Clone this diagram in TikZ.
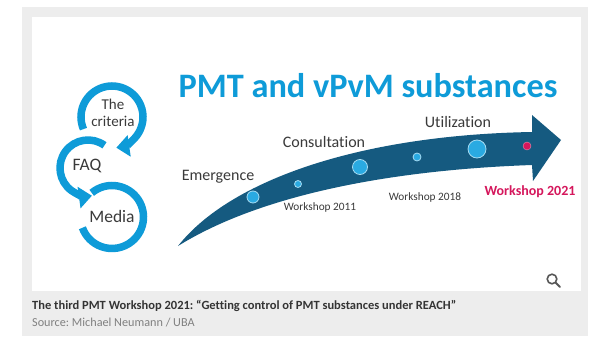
\documentclass[tikz,border=0pt]{standalone}
\usepackage{fontspec}
\setmainfont{Carlito}[Ligatures=NoCommon]
\usepackage{tikz}
\usetikzlibrary{arrows.meta}
\frenchspacing

\definecolor{ubablue}{HTML}{0E9BD8}
\definecolor{ubadark}{HTML}{155A80}
\definecolor{dotblue}{HTML}{2AAAE2}
\definecolor{dotrim}{HTML}{A6DCF3}
\definecolor{ubapink}{HTML}{D5175C}
\definecolor{framegray}{HTML}{EDEDED}
\definecolor{textgray}{HTML}{3A3A3A}

\begin{document}
\begin{tikzpicture}[y=-1pt,x=1pt,
	ring/.style={draw=ubablue, line width=7.5pt},
	ringtip/.style={ring, -{Triangle[width=21pt,length=13pt]}},
	ringtext/.style={text=textgray, font=\fontsize{17.5}{17}\selectfont},
	stage/.style={text=textgray, font=\fontsize{16}{16}\selectfont},
	year/.style={text=textgray, font=\fontsize{11.3}{12}\selectfont},
	spot/.style={fill=dotblue, draw=dotrim, line width=0.8pt}]
	\newcommand\Spot[1]{[spot] circle (#1)}

	\useasboundingbox (0,0) rectangle (596,337);
	% frame
	\fill[framegray] (22,7) rectangle (588,336);
	\fill[white] (32,17) rectangle (581,291);

	\node[text=ubablue, font=\bfseries\fontsize{34.3}{36}\selectfont] (title) at (368,86) {PMT and vPvM substances};

	% three circles
	\draw[ringtip] (112,117) ++(157:31) arc[start angle=157, end angle=442, radius=31];
	\draw[ringtip] (88,168) ++(306:28) arc[start angle=306, end angle=82, radius=28];
	\draw[ring] (112,217) ++(230:31.5) arc[start angle=230, end angle=520, radius=31.5];
	\node[ringtext, font=\fontsize{15}{17}\selectfont, align=center] (crit) at (113,113) {The\\criteria};
	\node[ringtext] (faq) at (87,166) {FAQ};
	\node[ringtext] (media) at (112,216) {Media};

	% big arrow
	\fill[ubadark] (178,246) .. controls (230,180) and (360,135) .. (532,132)
		-- (532,115) -- (561,140) -- (533,181) -- (532,165)
		.. controls (390,170) and (260,195) .. cycle;
	\draw (253,197) \Spot{6};
	\draw (298,184) \Spot{3.5};
	\draw (360,167) \Spot{7.5};
	\draw (417,157) \Spot{4};
	\draw (477,149) \Spot{9};
	\draw (527,146) [fill=ubapink, draw=ubapink!50] circle (4);

	\node[stage] (emerge) at (218,177) {Emergence};
	\node[stage] (consult) at (324,142) {Consultation};
	\node[stage] (util) at (458,122) {Utilization};
	\node[year] (ws11) at (320,207) {Workshop 2011};
	\node[year] (ws18) at (425,197) {Workshop 2018};
	\node[text=ubapink, font=\bfseries\fontsize{14}{14}\selectfont] (ws21) at (530,192) {Workshop 2021};

	% magnifier
	\draw[textgray!85, line width=1.6pt] (552,279) circle (4.8);
	\draw[textgray!85, line width=2pt, line cap=round] (555.8,282.8) -- (560,287);

	% caption
	\node[anchor=west, text=textgray!90!black, font=\bfseries\fontsize{12.5}{12}\selectfont, inner sep=0pt] (cap) at (32,306) {The third PMT Workshop 2021: “Getting control of PMT substances under REACH”};
	\node[anchor=west, text=gray, font=\fontsize{12.2}{12}\selectfont, inner sep=0pt] (src) at (32,323) {Source: Michael Neumann / UBA};
\end{tikzpicture}
\end{document}
